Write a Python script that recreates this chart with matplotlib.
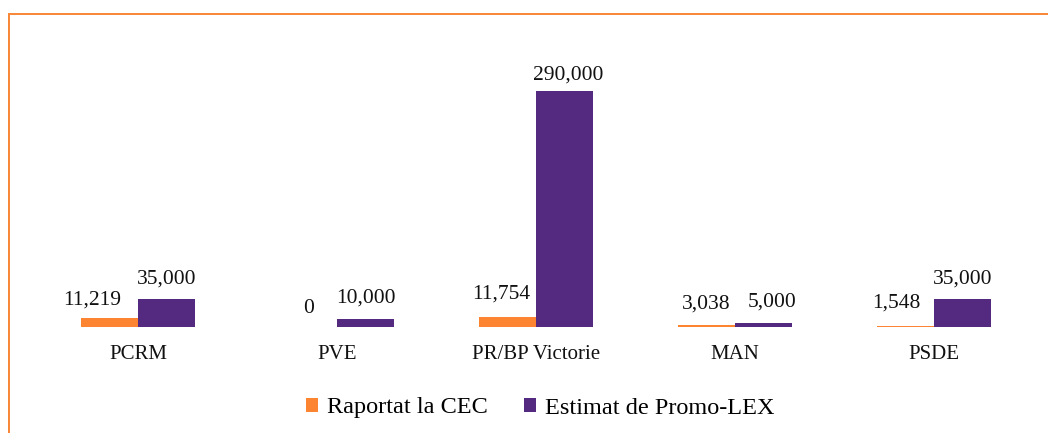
import matplotlib
matplotlib.use("Agg")
import matplotlib.pyplot as plt
from matplotlib.lines import Line2D
import numpy as np

categories = ["PCRM", "PVE", "PR/BP Victorie", "MAN", "PSDE"]
reported = [11219, 0, 11754, 3038, 1548]
estimated = [35000, 10000, 290000, 5000, 35000]
series_names = ["Raportat la CEC", "Estimat de Promo-LEX"]

ORANGE = "#FD8431"
PURPLE = "#532A7F"
BORDER = "#F8893A"

plt.rcParams["font.family"] = ["Liberation Serif", "DejaVu Serif"]

W, H = 1048, 433
fig = plt.figure(figsize=(W / 100, H / 100), dpi=100)
ax = fig.add_axes([38.5 / W, 106 / H, 995 / W, 260.4 / H])

x = np.arange(len(categories))
bw = 0.287
b1 = ax.bar(x - bw / 2, reported, bw, color=ORANGE, label=series_names[0])
b2 = ax.bar(x + bw / 2, estimated, bw, color=PURPLE, label=series_names[1])

ax.set_xlim(-0.5, len(categories) - 0.5)
ax.set_ylim(0, 320000)
for s in ax.spines.values():
    s.set_visible(False)
ax.set_yticks([])
ax.set_xticks(x)
ax.set_xticklabels(categories, fontsize=15, color="#111111")
ax.tick_params(axis="x", length=0, pad=13)

# small horizontal/vertical nudges (pixels) mimicking label placement
dx_rep = [-17, 0, -6, 0, -9]
dx_est = [0, 0, 4, 9, 0]
dy_rep = [13, 14, 19, 16, 18]
dy_est = [15, 16, 11, 16, 15]
px = 72 / 100
for rect, v, dx, dy in zip(b1, reported, dx_rep, dy_rep):
    ax.annotate(f"{v:,}", (rect.get_x() + rect.get_width() / 2, rect.get_height()),
                xytext=(dx * px, dy * px), textcoords="offset points",
                ha="center", va="baseline", fontsize=15.5, color="#111111")
for rect, v, dx, dy in zip(b2, estimated, dx_est, dy_est):
    ax.annotate(f"{v:,}", (rect.get_x() + rect.get_width() / 2, rect.get_height()),
                xytext=(dx * px, dy * px), textcoords="offset points",
                ha="center", va="baseline", fontsize=15.5, color="#111111")

fig.legend(handles=[b1, b2], labels=series_names, loc="center",
           bbox_to_anchor=(540 / W, 25 / H), ncol=2, frameon=False,
           fontsize=17.5, handlelength=0.5, handleheight=0.5,
           handletextpad=0.35, columnspacing=1.5, borderpad=0.2)

# orange frame (top and left edges visible)
lw = 2 * 72 / 100
fig.add_artist(Line2D([9 / W, 1.01], [1 - 14 / H, 1 - 14 / H], color=BORDER,
                      lw=lw, transform=fig.transFigure))
fig.add_artist(Line2D([9 / W, 9 / W], [1 - 14 / H, -0.01], color=BORDER,
                      lw=lw, transform=fig.transFigure))

fig.savefig("out.png", dpi=100)
